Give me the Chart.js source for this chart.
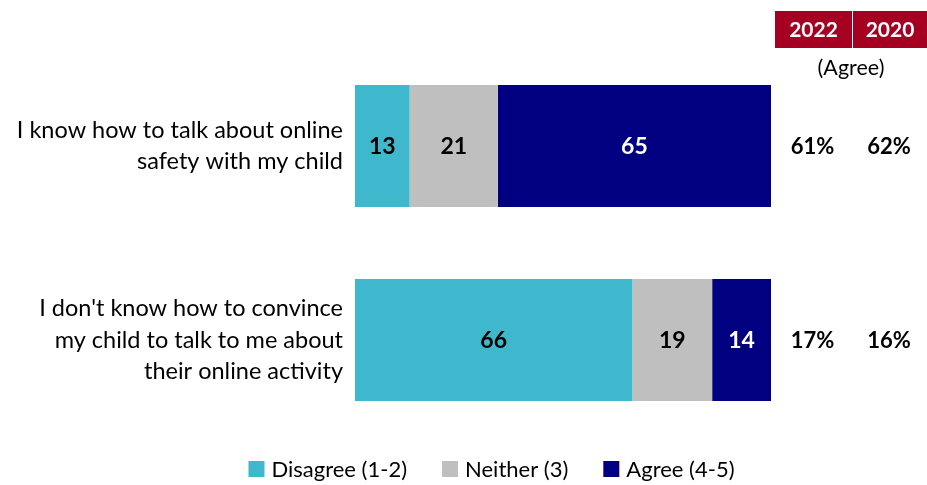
<!DOCTYPE html>
<html>
<head>
<meta charset="utf-8">
<script src="https://cdn.jsdelivr.net/npm/chart.js@4/dist/chart.umd.min.js"></script>
<style>
  html, body { margin: 0; padding: 0; background: #fff; }
  #wrap { width: 927px; height: 485px; position: relative; }
</style>
</head>
<body>
<div id="wrap"><canvas id="c" width="927" height="485"></canvas></div>
<script>
// Statements (multi-line labels)
const statements = [
  ['I know how to talk about online', 'safety with my child'],
  ["I don't know how to convince", 'my child to talk to me about', 'their online activity']
];
// 2022 response shares
const disagree = [13, 66];
const neither = [21, 19];
const agree = [65, 14];
// Agree columns on the right
const yearHeaders = ['2022', '2020'];
const agree2022 = [61, 17];
const agree2020 = [62, 16];
const seriesNames = ['Disagree (1-2)', 'Neither (3)', 'Agree (4-5)'];

const FONT = 'Lato, "Open Sans", sans-serif';
const COLORS = ['#3FB8CE', '#BFBFBF', '#000080'];
const LABEL_COLORS = ['#000000', '#000000', '#FFFFFF'];

// Values inside each bar segment
const barValues = {
  id: 'barValues',
  afterDatasetsDraw(chart) {
    const ctx = chart.ctx;
    ctx.save();
    ctx.font = 'bold 23px ' + FONT;
    ctx.textAlign = 'center';
    ctx.textBaseline = 'middle';
    chart.data.datasets.forEach((ds, i) => {
      chart.getDatasetMeta(i).data.forEach((bar, j) => {
        ctx.fillStyle = LABEL_COLORS[i];
        const x = (bar.x + bar.base) / 2;
        ctx.fillText(String(ds.data[j]), x, bar.y + 1);
      });
    });
    ctx.restore();
  }
};

// Year headers and agree columns at the right
const sideColumns = {
  id: 'sideColumns',
  afterDraw(chart) {
    const ctx = chart.ctx;
    const y = chart.scales.y;
    const cols = [
      { left: 775, right: 852, values: agree2022 },
      { left: 853, right: 927, values: agree2020 }
    ];
    ctx.save();
    cols.forEach((c, i) => {
      ctx.fillStyle = '#A50021';
      ctx.fillRect(c.left, 11, c.right - c.left, 37);
      ctx.fillStyle = '#FFFFFF';
      ctx.font = 'bold 21px ' + FONT;
      ctx.textAlign = 'center';
      ctx.textBaseline = 'middle';
      const cx = (c.left + c.right) / 2;
      ctx.fillText(yearHeaders[i], cx, 30);
      ctx.fillStyle = '#000000';
      ctx.font = 'bold 22px ' + FONT;
      c.values.forEach((v, j) => {
        ctx.fillText(v + '%', cx - 1, y.getPixelForValue(j) + 1);
      });
    });
    ctx.font = '21.5px ' + FONT;
    ctx.fillStyle = '#000000';
    ctx.textAlign = 'center';
    ctx.fillText('(Agree)', 851, 68);
    ctx.restore();
  }
};

// Legend row under the chart
const bottomLegend = {
  id: 'bottomLegend',
  afterDraw(chart) {
    const ctx = chart.ctx;
    ctx.save();
    ctx.font = '22px ' + FONT;
    ctx.textBaseline = 'middle';
    ctx.textAlign = 'left';
    const box = 16, gap = 7, spacing = 35, yMid = 469;
    const widths = chart.data.datasets.map(d => ctx.measureText(d.label).width);
    const total = widths.reduce((a, w) => a + box + gap + w, 0) + spacing * (widths.length - 1);
    let x = 491.5 - total / 2;
    chart.data.datasets.forEach((d, i) => {
      ctx.fillStyle = d.backgroundColor;
      ctx.fillRect(x, yMid - box / 2, box, box);
      ctx.fillStyle = '#000000';
      ctx.fillText(d.label, x + box + gap, yMid + 1);
      x += box + gap + widths[i] + spacing;
    });
    ctx.restore();
  }
};

new Chart(document.getElementById('c'), {
  type: 'bar',
  data: {
    labels: statements,
    datasets: [
      { label: seriesNames[0], data: disagree, backgroundColor: COLORS[0] },
      { label: seriesNames[1], data: neither, backgroundColor: COLORS[1] },
      { label: seriesNames[2], data: agree, backgroundColor: COLORS[2] }
    ]
  },
  options: {
    indexAxis: 'y',
    responsive: false,
    animation: false,
    layout: { padding: { top: 49, right: 156, bottom: 48, left: 0 } },
    datasets: { bar: { categoryPercentage: 1, barPercentage: 0.629, borderWidth: 0 } },
    scales: {
      x: {
        stacked: true,
        min: 0,
        max: 99,
        display: false
      },
      y: {
        stacked: true,
        grid: { display: false, drawTicks: false },
        border: { display: false },
        ticks: {
          color: '#000000',
          font: { family: FONT, size: 23.5, lineHeight: 1.33 },
          padding: 12
        },
        afterFit(scale) {
          scale.width = 355;
          scale.paddingTop = 0;
          scale.paddingBottom = 0;
        }
      }
    },
    plugins: {
      legend: { display: false },
      tooltip: { enabled: false }
    }
  },
  plugins: [barValues, sideColumns, bottomLegend]
});
</script>
</body>
</html>
